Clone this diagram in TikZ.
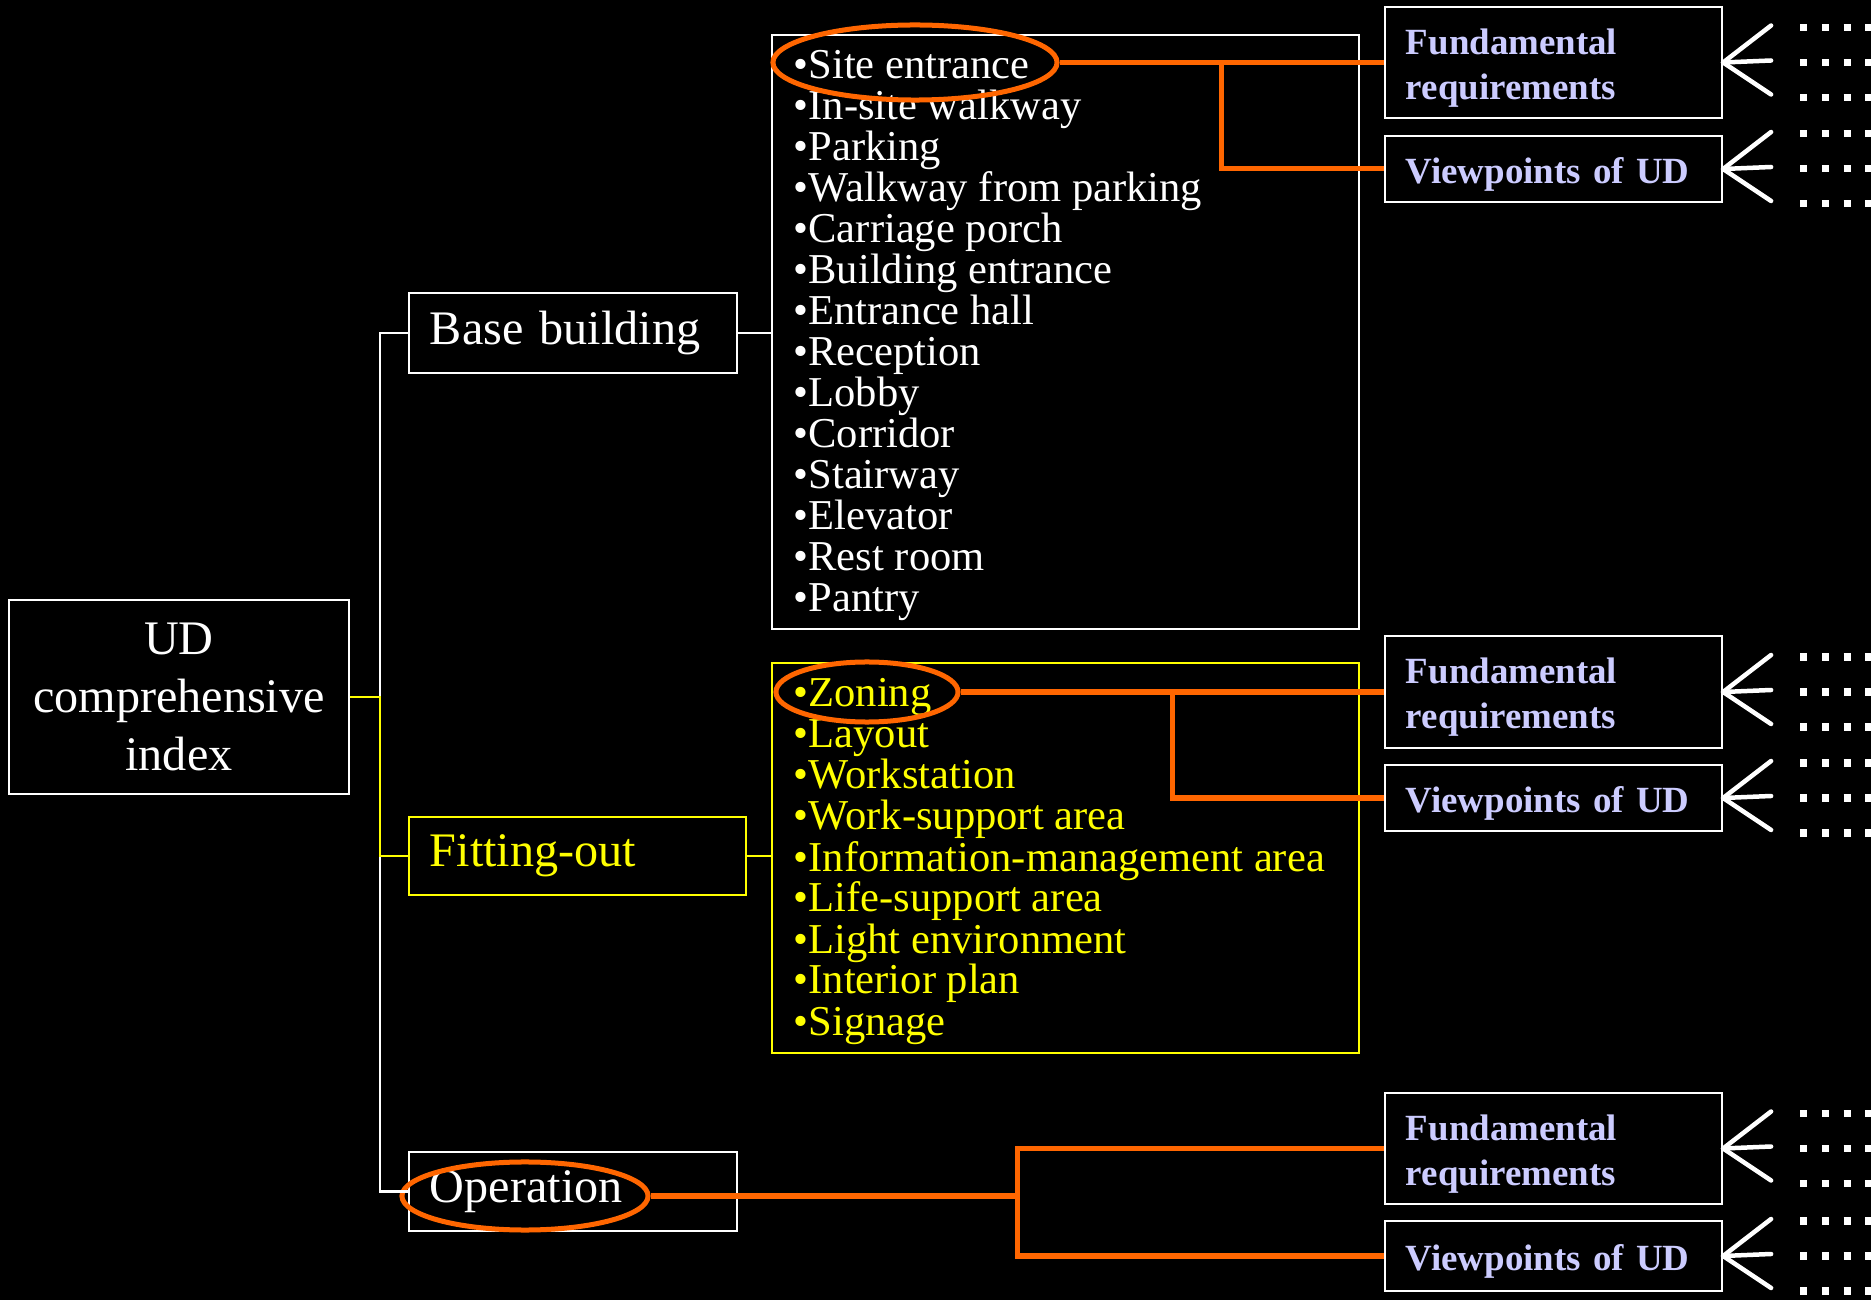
\documentclass[tikz,border=0pt]{standalone}
\usepackage{fontspec}
\setmainfont{Liberation Serif}
\usetikzlibrary{shapes.geometric, calc}
\definecolor{hiorange}{HTML}{FF6600}
\definecolor{lavender}{HTML}{CCCCFF}
\definecolor{fityellow}{HTML}{FFFF00}
\newcommand{\toppad}{\rule{0pt}{10.4pt}}

\begin{document}
\begin{tikzpicture}[
  x=0.01cm, y=-0.01cm,
  rootbox/.style={rectangle, draw=white, line width=0.02cm, text=white, align=center, minimum width=3.39cm, minimum height=1.93cm, inner sep=0pt, font=\fontsize{13.7}{16.4}\selectfont},
  catbox/.style={rectangle, draw=white, line width=0.02cm, text=white, text width=2.86cm, align=left, inner xsep=0.21cm, inner ysep=0pt, minimum height=0.8cm, font=\fontsize{13.7}{16}\selectfont},
  listbox/.style={rectangle, draw=white, line width=0.02cm, minimum width=5.87cm},
  item/.style={anchor=base west, inner sep=0pt, text=white, font=\fontsize{12.1}{11.7}\selectfont},
  aspect/.style={rectangle, draw=white, line width=0.02cm, text=lavender, text width=2.95cm, align=left, inner xsep=0.21cm, inner ysep=0pt, font=\bfseries\fontsize{10.5}{12.8}\selectfont},
  ring/.style={ellipse, draw=hiorange, line width=0.05cm, inner sep=0pt},
  link/.style={draw=hiorange, line width=0.05cm},
  branch/.style={draw=white, line width=0.02cm},
  fan/.style={draw=white, line width=0.045cm, line cap=round},
  dotrow/.style={draw=white, line width=0.07cm, dash pattern=on 0.07cm off 0.147cm}
]
  \fill[black] (0,0) rectangle (1871,1300);
  \useasboundingbox (0,0) rectangle (1871,1300);

  % tree of parts
  \node[rootbox] (root) at (179,697) {UD\\comprehensive\\index};
  \node[catbox] (base) at (573,333) {Base building};
  \node[catbox, draw=fityellow, text=fityellow, text width=2.95cm, minimum height=0.78cm] (fit) at (577.5,856) {Fitting-out};
  \node[catbox, minimum height=0.79cm] (oper) at (573,1191.5) {Operation};

  % item lists
  \node[listbox, minimum height=5.94cm] (baselist) at (1065.5,332) {};
  \node[listbox, draw=fityellow, minimum height=3.90cm] (fitlist) at (1065.5,858) {};
  \foreach \txt [count=\i] in {Site entrance, In-site walkway, Parking, Walkway from parking,
      Carriage porch, Building entrance, Entrance hall, Reception, Lobby, Corridor,
      Stairway, Elevator, Rest room, Pantry}
    \node[item] (b\i) at (793,{79+41*(\i-1)}) {•\txt};
  \foreach \txt [count=\i] in {Zoning, Layout, Workstation, Work-support area,
      Information-management area, Life-support area, Light environment,
      Interior plan, Signage}
    \node[item, text=fityellow] (f\i) at (793,{707+41*(\i-1)}) {•\txt};

  % requirement boxes
  \node[aspect, minimum height=1.11cm] (fund1) at (1553.5,62.5) {\toppad Fundamental\\requirements};
  \node[aspect, minimum height=0.66cm] (view1) at (1553.5,169) {\toppad Viewpoints of UD};
  \node[aspect, minimum height=1.11cm] (fund2) at (1553.5,692) {\toppad Fundamental\\requirements};
  \node[aspect, minimum height=0.66cm] (view2) at (1553.5,798) {\toppad Viewpoints of UD};
  \node[aspect, minimum height=1.11cm] (fund3) at (1553.5,1148.5) {\toppad Fundamental\\requirements};
  \node[aspect, minimum height=0.70cm] (view3) at (1553.5,1256) {\toppad Viewpoints of UD};

  % highlights
  \node[ring, minimum width=2.84cm, minimum height=0.75cm] (ringsite) at (915,62.5) {};
  \node[ring, minimum width=1.82cm, minimum height=0.60cm] (ringzone) at (867,692) {};
  \node[ring, minimum width=2.46cm, minimum height=0.68cm] (ringop) at (525,1196) {};

  \draw[branch] (root.east) -- ++(30,0) |- (base.west);
  \draw[branch] (root.east) -- ++(30,0) |- (oper.west);
  \draw[branch, draw=fityellow] (root.east) -- ++(30,0) |- (fit.west);
  \draw[branch] (base.east) -- (base.east -| baselist.west);
  \draw[branch, draw=fityellow] (fit.east) -- (fit.east -| fitlist.west);

  \draw[link] (ringsite.east) -- (fund1.west);
  \draw[link] ($(ringsite.east)!0.5!(fund1.west)$) |- (view1.west);
  \draw[link] (ringzone.east) -- (fund2.west);
  \draw[link] ($(ringzone.east)!0.5!(fund2.west)$) |- (view2.west);
  \coordinate (opsplit) at ($(ringop.east)!0.5!(fund3.west)$);
  \draw[link] (ringop.east) -- (opsplit |- ringop.east) |- (fund3.west);
  \draw[link] (opsplit |- ringop.east) |- (view3.west);

  % fans and dots
  \foreach \b in {fund1, view1, fund2, view2, fund3, view3} {
    \draw[fan] (\b.east) -- ++(48,-37);
    \draw[fan] (\b.east) -- ++(48,-2);
    \draw[fan] (\b.east) -- ++(48,32);
    \foreach \dy in {-35, 0, 35}
      \draw[dotrow] ($(\b.east)+(77,\dy)$) -- ++(80,0);
  }
\end{tikzpicture}
\end{document}
